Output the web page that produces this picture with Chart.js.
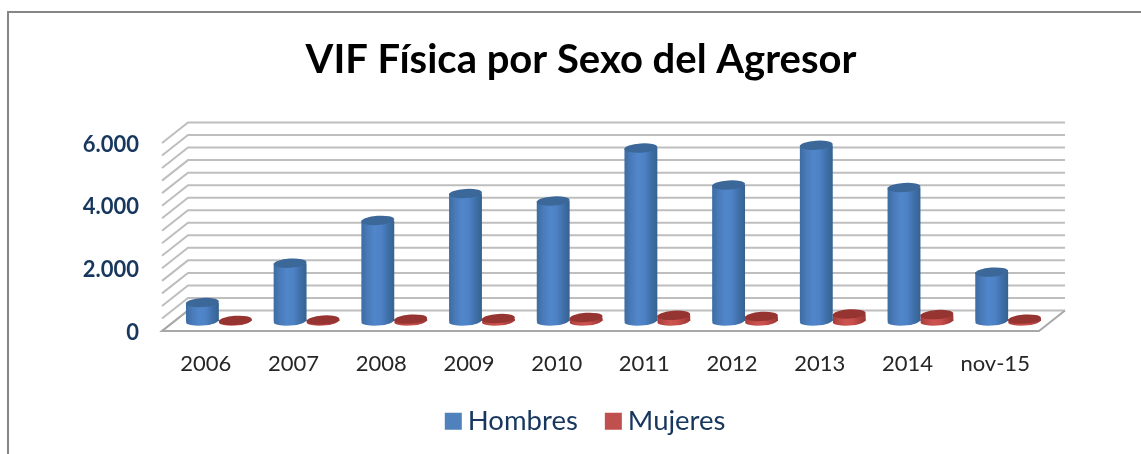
<!DOCTYPE html>
<html>
<head>
<meta charset="utf-8">
<style>
html, body { margin: 0; padding: 0; background: #fff; overflow: hidden; }
#frame { position: absolute; left: 7px; top: 11px; width: 1200px; height: 500px; border: 2px solid #868686; }
#wrap { position: absolute; left: 0; top: 0; width: 1141px; height: 454px; }
</style>
<script src="https://cdn.jsdelivr.net/npm/chart.js@4"></script>
</head>
<body>
<div id="frame"></div>
<div id="wrap"><canvas id="myChart" width="1141" height="454"></canvas></div>
<script>
const categories = ['2006', '2007', '2008', '2009', '2010', '2011', '2012', '2013', '2014', 'nov-15'];
const hombres = [590, 1845, 3210, 4070, 3830, 5520, 4340, 5610, 4260, 1560];
const mujeres = [20, 30, 60, 80, 115, 180, 145, 225, 205, 60];
const yTickLabels = ['0', '2.000', '4.000', '6.000'];

// depth of the fake 3D box, and where the bars stand inside it
const wallDx = 26, wallDy = 20.5;
const barDx = 13, barDy = 10;

const legendColors = ['#4F81BD', '#C0504D'];
const blueStops = ['#3D6CA2', '#4A7BBA', '#5086CB', '#4E82C6', '#3F70AA', '#37628F'];
const redStops = ['#A63C39', '#BD4A47', '#CC5350', '#C94F4C', '#AF413E', '#9A3633'];
const capColors = ['#3B6898', '#963431'];

// horizontal gradient so a flat bar reads as a cylinder
function cylinder(context, stops, flat) {
    if (context.type !== 'data') return flat;
    const chart = context.chart;
    const x = chart.scales.x;
    if (!x) return flat;
    const half = x.width / categories.length * 0.75 / 2;
    const center = x.getPixelForValue(context.dataIndex);
    if (!Number.isFinite(center) || !Number.isFinite(half)) return flat;
    const left = context.datasetIndex === 0 ? center - half : center;
    const g = chart.ctx.createLinearGradient(left, 0, left + half, 0);
    stops.forEach((c, i) => g.addColorStop(i / (stops.length - 1), c));
    return g;
}

function ellipse(ctx, el, y, color) {
    ctx.fillStyle = color;
    ctx.beginPath();
    ctx.ellipse(el.x, y, el.width / 2, 4.6, -0.07, 0, Math.PI * 2);
    ctx.fill();
}

const box3d = {
    id: 'box3d',
    afterLayout(chart) {
        // title and legend are centred on the picture, not on the plot
        chart.titleBlock.left += 51;
        chart.titleBlock.right += 51;
        chart.legend.left += 59;
        chart.legend.right += 59;
    },
    beforeDatasetsDraw(chart) {
        const { ctx, chartArea } = chart;
        const yScale = chart.scales.y;
        ctx.save();
        ctx.lineWidth = 2;
        ctx.strokeStyle = '#BEBEBE';
        yScale.ticks.forEach(t => {
            const y = yScale.getPixelForValue(t.value);
            ctx.beginPath();
            ctx.moveTo(chartArea.left, y);
            ctx.lineTo(chartArea.left + wallDx, y - wallDy);
            ctx.lineTo(chartArea.right + wallDx, y - wallDy);
            ctx.stroke();
        });
        // floor
        ctx.strokeStyle = '#A8A8A8';
        ctx.beginPath();
        ctx.moveTo(chartArea.left + wallDx, chartArea.bottom - wallDy);
        ctx.lineTo(chartArea.left, chartArea.bottom);
        ctx.lineTo(chartArea.right, chartArea.bottom);
        ctx.lineTo(chartArea.right + wallDx, chartArea.bottom - wallDy);
        ctx.stroke();
        ctx.restore();

        ctx.save();
        ctx.translate(barDx, -barDy);
    },
    beforeDatasetDraw(chart, args) {
        args.meta.data.forEach(el => {
            ellipse(chart.ctx, el, el.base, el.options.backgroundColor);
        });
    },
    afterDatasetDraw(chart, args) {
        args.meta.data.forEach(el => {
            ellipse(chart.ctx, el, el.y, capColors[args.index]);
        });
    },
    afterDatasetsDraw(chart) {
        chart.ctx.restore();
    }
};

const myChart = new Chart(document.getElementById('myChart'), {
    type: 'bar',
    plugins: [box3d],
    data: {
        labels: categories,
        datasets: [{
            label: 'Hombres',
            data: hombres,
            clip: false,
            backgroundColor: c => cylinder(c, blueStops, legendColors[0])
        }, {
            label: 'Mujeres',
            data: mujeres,
            clip: false,
            backgroundColor: c => cylinder(c, redStops, legendColors[1])
        }]
    },
    options: {
        responsive: false,
        animation: false,
        layout: { padding: { left: 21, right: 102, top: 0, bottom: 9 } },
        datasets: { bar: { categoryPercentage: 0.75, barPercentage: 1 } },
        scales: {
            x: {
                grid: { display: false, drawTicks: false },
                border: { display: false },
                afterFit(scale) { scale.height = 41.75; },
                ticks: {
                    padding: 20,
                    color: '#262626',
                    maxRotation: 0,
                    autoSkip: false,
                    font: { family: 'Lato', size: 22 }
                }
            },
            y: {
                min: 0,
                max: 6000,
                grid: { display: false, drawTicks: false },
                border: { display: false },
                afterFit(scale) { scale.width = 141; },
                ticks: {
                    stepSize: 400,
                    padding: 23,
                    labelOffset: 1.5,
                    autoSkip: false,
                    color: '#17375E',
                    font: { family: 'Lato', size: 22, weight: 'bold' },
                    callback: v => (v % 2000 === 0 ? yTickLabels[v / 2000] : '')
                }
            }
        },
        plugins: {
            tooltip: { enabled: false },
            title: {
                display: true,
                text: 'VIF Física por Sexo del Agresor',
                color: '#000',
                padding: { top: 36, bottom: 59 },
                font: { family: 'Lato', size: 40, weight: 'bold' }
            },
            legend: {
                position: 'bottom',
                labels: {
                    boxWidth: 1.5,
                    boxHeight: 1.5,
                    padding: 34.75,
                    color: '#17375E',
                    font: { family: 'Lato', size: 27.5 },
                    // wide stroke makes the square, so the label sits close to it
                    generateLabels(chart) {
                        return Chart.defaults.plugins.legend.labels.generateLabels(chart).map((item, i) => ({
                            ...item,
                            fillStyle: legendColors[i],
                            strokeStyle: legendColors[i],
                            lineWidth: 15.5
                        }));
                    }
                }
            }
        }
    }
});
</script>
</body>
</html>
